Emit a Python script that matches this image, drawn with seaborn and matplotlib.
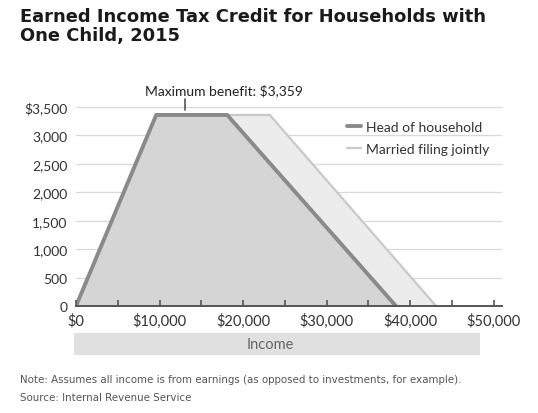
import matplotlib
matplotlib.use("Agg")
import matplotlib.pyplot as plt
import seaborn as sns
import pandas as pd
from matplotlib.patches import Rectangle
from matplotlib.ticker import FuncFormatter, MultipleLocator

# Data
hoh_income = [0, 9600, 18100, 38300]
hoh_credit = [0, 3359, 3359, 0]
mfj_income = [0, 9600, 23200, 43100]
mfj_credit = [0, 3359, 3359, 0]
series_names = ["Head of household", "Married filing jointly"]
y_ticks = [0, 500, 1000, 1500, 2000, 2500, 3000, 3500]
x_ticks = [0, 10000, 20000, 30000, 40000, 50000]

df = pd.concat([
    pd.DataFrame({"Income": hoh_income, "Credit": hoh_credit, "Filing": series_names[0]}),
    pd.DataFrame({"Income": mfj_income, "Credit": mfj_credit, "Filing": series_names[1]}),
])

sns.set_theme(style="white")
plt.rcParams["font.family"] = ["Lato", "DejaVu Sans"]

fig = plt.figure(figsize=(5.38, 4.14), dpi=100)
ax = fig.add_axes([76 / 538, 0.2585, 426 / 538, 0.489])

line_colors = {series_names[0]: "#8a8a8a", series_names[1]: "#c9c9c9"}
fill_colors = {series_names[0]: "#d5d5d5", series_names[1]: "#ececec"}

for name, xs, ys in [(series_names[1], mfj_income, mfj_credit), (series_names[0], hoh_income, hoh_credit)]:
    ax.fill_between(xs, ys, 0, color=fill_colors[name], zorder=1, linewidth=0)

sns.lineplot(data=df[df.Filing == series_names[1]], x="Income", y="Credit", color=line_colors[series_names[1]],
             linewidth=1.6, ax=ax, label=series_names[1], zorder=3, sort=False)
sns.lineplot(data=df[df.Filing == series_names[0]], x="Income", y="Credit", color=line_colors[series_names[0]],
             linewidth=2.8, ax=ax, label=series_names[0], zorder=4, sort=False)

ax.set_xlim(0, 51000)
ax.set_ylim(0, 3560)
ax.set_yticks(y_ticks)
ax.set_xticks(x_ticks)
ax.xaxis.set_minor_locator(MultipleLocator(5000))
ax.yaxis.set_major_formatter(FuncFormatter(lambda v, p: "$3,500" if v == 3500 else f"{int(v):,}"))
ax.xaxis.set_major_formatter(FuncFormatter(lambda v, p: f"${int(v):,}"))
ax.grid(axis="y", color="#d9d9d9", linewidth=0.9, zorder=0)
ax.set_axisbelow(True)
ax.xaxis.set_zorder(5)
for s in ["top", "right", "left"]:
    ax.spines[s].set_visible(False)
ax.spines["bottom"].set_color("#555555")
ax.spines["bottom"].set_linewidth(1.4)
ax.spines["bottom"].set_zorder(5)
ax.tick_params(axis="x", which="both", direction="in", length=4, width=1.2, color="#555555",
               labelsize=10.5, labelcolor="#333333", pad=5, bottom=True)
ax.tick_params(axis="y", length=0, labelsize=10, labelcolor="#333333", pad=6)
ax.set_xlabel("")
ax.set_ylabel("")

handles, labels = ax.get_legend_handles_labels()
order = [labels.index(series_names[0]), labels.index(series_names[1])]
leg = ax.legend([handles[i] for i in order], [labels[i] for i in order], loc="upper right",
                bbox_to_anchor=(1.0, 0.975), frameon=False, fontsize=10, handlelength=1.0,
                handletextpad=0.4, labelspacing=0.7)
for t in leg.get_texts():
    t.set_color("#333333")

# Max benefit annotation
ax.annotate("Maximum benefit: $3,359", xy=(17700, 3359), xytext=(17700, 3800),
            ha="center", va="center", fontsize=10, color="#222222", annotation_clip=False)
ax.plot([13050, 13050], [3440, 3640], color="#555555", linewidth=1.2, clip_on=False, zorder=6)

# Income band
fig.patches.append(Rectangle((74 / 538, 1 - 356 / 414), (480 - 74) / 538, 22 / 414,
                             transform=fig.transFigure, facecolor="#e0e0e0", edgecolor="none"))
fig.text(270 / 538, 1 - 345 / 414, "Income", ha="center", va="center", fontsize=10.5, color="#666666")

# Title
fig.text(20 / 538, 1 - 8 / 414, "Earned Income Tax Credit for Households with\nOne Child, 2015",
         ha="left", va="top", fontsize=12.9, fontweight="bold", color="#1a1a1a", linespacing=1.1,
         family=["DejaVu Sans"])

# Notes
fig.text(20 / 538, 1 - 380 / 414, "Note: Assumes all income is from earnings (as opposed to investments, for example).",
         ha="left", va="center", fontsize=7.35, color="#555555", family=["DejaVu Sans"])
fig.text(20 / 538, 1 - 398 / 414, "Source: Internal Revenue Service",
         ha="left", va="center", fontsize=7.35, color="#555555", family=["DejaVu Sans"])

fig.savefig("out.png", dpi=100, facecolor="white")
